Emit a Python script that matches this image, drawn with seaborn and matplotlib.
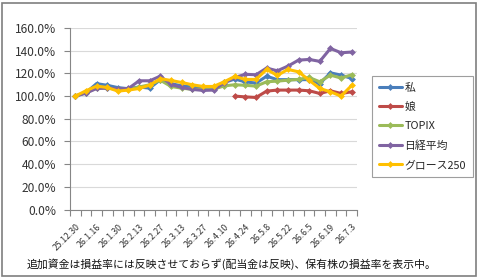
import numpy as np
import pandas as pd
import seaborn as sns
import matplotlib.pyplot as plt
from matplotlib.patches import Rectangle
from matplotlib.ticker import FixedLocator, FuncFormatter

dates = ["25.12.30", "26.1.9", "26.1.16", "26.1.23", "26.1.30", "26.2.6", "26.2.13",
         "26.2.20", "26.2.27", "26.3.6", "26.3.13", "26.3.20", "26.3.27", "26.4.3",
         "26.4.10", "26.4.17", "26.4.24", "26.5.1", "26.5.8", "26.5.15", "26.5.22",
         "26.5.29", "26.6.5", "26.6.12", "26.6.19", "26.6.26", "26.7.3"]

watashi = [100, 103, 111, 109.5, 107.5, 106.5, 108, 107, 114.5, 111, 109, 108, 106.5,
           106, 112, 115, 112.5, 111.5, 117.5, 114.5, 114.5, 114.5, 114.5, 111, 120.5,
           118.5, 115.5]
musume = [np.nan] * 15 + [100, 99.3, 98.8, 104.4, 105.3, 105.3, 105.3, 104.7, 102.3,
                          104.7, 102.3, 103.8]
topix = [100, 103, 107, 107, 106, 106, 108, 110, 114, 108.5, 107, 106, 106, 106, 109,
         110, 109.5, 108.8, 112.6, 113.2, 114, 114.7, 116.4, 112.6, 118.5, 115.9, 118.8]
nikkei = [100, 102.6, 106.7, 107, 106.4, 106.7, 113.5, 113.5, 117.6, 110.3, 107.6,
          105.9, 105, 105.3, 111.7, 116.4, 119.2, 118.8, 124.7, 122.3, 126.4, 131.7,
          132.3, 130.6, 142, 138.2, 138.8]
growth = [100, 104.7, 108.8, 107.6, 104.4, 105.3, 106.7, 109.7, 115.3, 113.8, 112, 110,
          108.5, 108.5, 112.6, 117.3, 114.7, 114.7, 123.5, 118.2, 123.5, 121.4, 114,
          106.7, 103.8, 100, 109.4]

series_names = ["私", "娘", "TOPIX", "日経平均", "グロース250"]
series_values = [watashi, musume, topix, nikkei, growth]
colors = ["#4A7EBB", "#BE4B48", "#9BBB59", "#8064A2", "#FFC000"]

note = "追加資金は損益率には反映させておらず(配当金は反映)、保有株の損益率を表示中。"

sns.set_theme(style="white")
plt.rcParams['font.family'] = ['Noto Sans CJK JP', 'DejaVu Sans']

fig = plt.figure(figsize=(4.8, 2.78), dpi=100)
ax = fig.add_axes([70 / 480, 1 - 209.6 / 278, 287 / 480, (209.6 - 28) / 278])

idx = np.arange(len(dates))
for name, vals, c in zip(series_names, series_values, colors):
    df = pd.DataFrame({"idx": idx, "value": vals}).dropna()
    sns.lineplot(data=df, x="idx", y="value", color=c, label=name, marker="D",
                 markersize=3.5, markeredgewidth=0, linewidth=2.2, ax=ax)

ax.set_xlim(-0.5, len(dates) - 0.5)
ax.set_ylim(0, 160)
ax.set_xlabel("")
ax.set_ylabel("")

# y axis
ax.yaxis.set_major_locator(FixedLocator(np.arange(0, 161, 20)))
ax.yaxis.set_major_formatter(FuncFormatter(lambda v, p: f"{v:.1f}%"))
ax.grid(axis="y", color="#D9D9D9", linewidth=0.8)
ax.set_axisbelow(True)
ax.tick_params(axis="y", which="major", left=True, length=4, width=0.8,
               color="#868686", labelsize=8.6, pad=6, labelcolor="#333333")

# x axis: labels every other category, tick marks between categories
ax.set_xticks(idx[::2])
ax.set_xticklabels(dates[::2], rotation=45, ha="right", rotation_mode="anchor",
                   fontsize=6.3, color="#333333")
ax.set_xticks(np.arange(-0.5, len(dates), 1), minor=True)
ax.tick_params(axis="x", which="major", bottom=False, pad=3)
ax.tick_params(axis="x", which="minor", bottom=True, length=4, width=0.8,
               color="#868686")

for s in ["top", "right"]:
    ax.spines[s].set_visible(False)
for s in ["left", "bottom"]:
    ax.spines[s].set_color("#868686")
    ax.spines[s].set_linewidth(0.8)

leg = ax.legend(loc="upper left", bbox_to_anchor=(372 / 480, 1 - 76 / 278),
                bbox_transform=fig.transFigure, fontsize=7.8, frameon=True,
                fancybox=False, edgecolor="#868686", handlelength=2.2,
                handletextpad=0.2, labelspacing=0.85, borderpad=0.6,
                borderaxespad=0)
leg.get_frame().set_linewidth(0.8)

fig.text(232 / 480, 1 - 264 / 278, note, ha="center", va="center", fontsize=7.8,
         color="#111111")

fig.patches.append(Rectangle((2 / 480, 2 / 278), 474 / 480, 273 / 278,
                             transform=fig.transFigure, fill=False,
                             edgecolor="#7F7F7F", linewidth=1.2))

fig.savefig("out.png", dpi=100)
